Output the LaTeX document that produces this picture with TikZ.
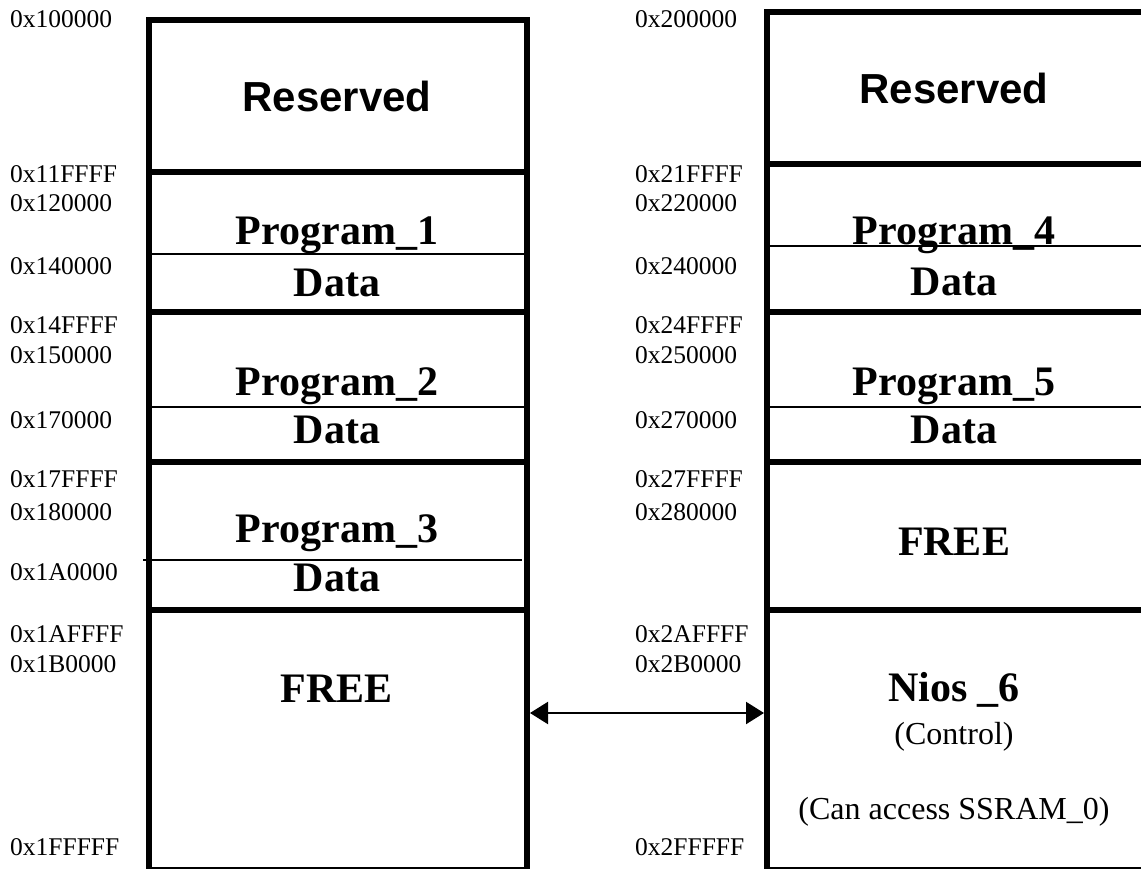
\documentclass[tikz,border=0pt]{standalone}
\usepackage{fontspec}
\setmainfont{Liberation Serif}
\newfontfamily\arialfont{Liberation Sans}
\usetikzlibrary{arrows.meta}
\tikzset{
 addr/.style={anchor=base west, inner sep=0pt, font=\fontsize{25.5}{30}\selectfont},
 ttl/.style={anchor=base, inner sep=0pt, font=\fontsize{42}{50}\selectfont\bfseries},
 rsv/.style={anchor=base, inner sep=0pt, font=\arialfont\fontsize{42}{50}\selectfont\bfseries},
 note/.style={anchor=base, inner sep=0pt, font=\fontsize{32}{38}\selectfont},
 membox/.style={draw, line width=6pt, minimum width=378pt, inner sep=0pt},
 thickdiv/.style={line width=6pt},
 thindiv/.style={line width=2pt},
 link/.style={line width=2.2pt, {Triangle[length=18pt,width=22pt]}-{Triangle[length=18pt,width=22pt]}}
}
\begin{document}
\begin{tikzpicture}[x=1pt,y=-1pt]
\useasboundingbox (0,0) rectangle (1141,869);
\clip (0,0) rectangle (1141,869);
% memory boxes
\node[membox, minimum height=850pt] (L) at (338,445) {};
\node[membox, minimum height=858pt] (R) at (956,441) {};
% left dividers
\draw[thickdiv] (149,172) -- (527,172);
\draw[thindiv]  (149,254) -- (527,254);
\draw[thickdiv] (149,312) -- (527,312);
\draw[thindiv]  (149,407) -- (527,407);
\draw[thickdiv] (149,462) -- (527,462);
\draw[thindiv]  (143,560) -- (522,560);
\draw[thickdiv] (149,610) -- (527,610);
% right dividers
\draw[thickdiv] (767,164) -- (1145,164);
\draw[thindiv]  (767,246) -- (1145,246);
\draw[thickdiv] (767,312) -- (1145,312);
\draw[thindiv]  (767,407) -- (1145,407);
\draw[thickdiv] (767,462) -- (1145,462);
\draw[thickdiv] (767,610) -- (1145,610);
% left addresses
\node[addr] (a100000) at (10,28)  {0x100000};
\node[addr] (a11FFFF) at (10,183) {0x11FFFF};
\node[addr] (a120000) at (10,212) {0x120000};
\node[addr] (a140000) at (10,275) {0x140000};
\node[addr] (a14FFFF) at (10,333) {0x14FFFF};
\node[addr] (a150000) at (10,363) {0x150000};
\node[addr] (a170000) at (10,428) {0x170000};
\node[addr] (a17FFFF) at (10,487) {0x17FFFF};
\node[addr] (a180000) at (10,520) {0x180000};
\node[addr] (a1A0000) at (10,580) {0x1A0000};
\node[addr] (a1AFFFF) at (10,642) {0x1AFFFF};
\node[addr] (a1B0000) at (10,672) {0x1B0000};
\node[addr] (a1FFFFF) at (10,855) {0x1FFFFF};
% right addresses
\node[addr] (a200000) at (635,28)  {0x200000};
\node[addr] (a21FFFF) at (635,183) {0x21FFFF};
\node[addr] (a220000) at (635,212) {0x220000};
\node[addr] (a240000) at (635,275) {0x240000};
\node[addr] (a24FFFF) at (635,333) {0x24FFFF};
\node[addr] (a250000) at (635,363) {0x250000};
\node[addr] (a270000) at (635,428) {0x270000};
\node[addr] (a27FFFF) at (635,487) {0x27FFFF};
\node[addr] (a280000) at (635,520) {0x280000};
\node[addr] (a2AFFFF) at (635,642) {0x2AFFFF};
\node[addr] (a2B0000) at (635,672) {0x2B0000};
\node[addr] (a2FFFFF) at (635,855) {0x2FFFFF};
% left contents
\node[rsv] (resL)  at (337,112) {Reserved};
\node[ttl] (prog1) at (337,245) {Program\_1};
\node[ttl] (data1) at (337,296) {Data};
\node[ttl] (prog2) at (337,395) {Program\_2};
\node[ttl] (data2) at (337,443) {Data};
\node[ttl] (prog3) at (337,542) {Program\_3};
\node[ttl] (data3) at (337,591) {Data};
\node[ttl] (freeL) at (337,702) {FREE};
% right contents
\node[rsv] (resR)  at (954,104) {Reserved};
\node[ttl] (prog4) at (954,245) {Program\_4};
\node[ttl] (data4) at (954,295) {Data};
\node[ttl] (prog5) at (954,395) {Program\_5};
\node[ttl] (data5) at (954,443) {Data};
\node[ttl] (freeR) at (954,555) {FREE};
\node[ttl] (nios)  at (954,701) {Nios \_6};
\node[note] (ctrl) at (954,744) {(Control)};
\node[note] (acc)  at (954,819) {(Can access SSRAM\_0)};
% connector
\coordinate (ay) at (0,713);
\draw[link] (L.east |- ay) -- (R.west |- ay);
\end{tikzpicture}
\end{document}
